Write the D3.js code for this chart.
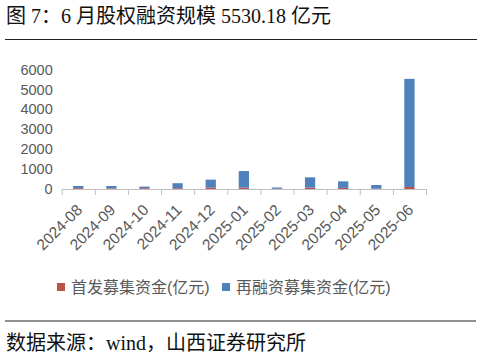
<!DOCTYPE html>
<html>
<head>
<meta charset="utf-8">
<script src="https://cdn.jsdelivr.net/npm/d3@7"></script>
<style>
  body { margin: 0; background: #fff; }
  svg { display: block; }
</style>
</head>
<body>
<div id="chart"></div>
<script>
// months on the x axis
const months = ['2024-08', '2024-09', '2024-10', '2024-11', '2024-12', '2025-01',
  '2025-02', '2025-03', '2025-04', '2025-05', '2025-06'];
// 首发募集资金 (亿元)
const ipoValues = [40, 30, 40, 40, 70, 70, 10, 70, 55, 20, 100];
// 再融资募集资金 (亿元)
const refiValues = [110, 120, 80, 250, 400, 830, 65, 515, 330, 180, 5430];
const yTicks = [0, 1000, 2000, 3000, 4000, 5000, 6000];
const seriesNames = ['首发募集资金(亿元)', '再融资募集资金(亿元)'];
const colors = ['#C0504D', '#4F81BD'];

const W = 482, H = 361;
const cjk = '"Liberation Serif", "Noto Sans CJK SC", serif';
const sans = 'Arial, "Liberation Sans", "Noto Sans CJK SC", sans-serif';

const svg = d3.select('#chart').append('svg')
  .attr('width', W)
  .attr('height', H);

// title + rule
svg.append('text')
  .attr('x', 6)
  .attr('y', 23)
  .attr('font-family', cjk)
  .attr('font-size', 20)
  .attr('fill', '#111')
  .text('图 7：6 月股权融资规模 5530.18 亿元');

svg.append('line')
  .attr('x1', 5).attr('x2', 477)
  .attr('y1', 39.5).attr('y2', 39.5)
  .attr('stroke', '#222').attr('stroke-width', 1.2);

// scales
const x = d3.scaleBand()
  .domain(months)
  .range([61.7, 426])
  .paddingInner(0.69)
  .paddingOuter(0.345);

const xEdge = d3.scaleLinear()
  .domain([0, months.length])
  .range([61.7, 426]);

const y = d3.scaleLinear()
  .domain([0, 6000])
  .range([189, 69.5]);

// stacked data
const table = months.map((m, i) => ({ month: m, ipo: ipoValues[i], refi: refiValues[i] }));
const stacked = d3.stack().keys(['ipo', 'refi'])(table);

// y axis (labels only)
const yAxisG = svg.append('g')
  .attr('transform', 'translate(61.7,0)')
  .call(d3.axisLeft(y).tickValues(yTicks).tickFormat(d3.format('d')).tickSize(0).tickPadding(9));
yAxisG.select('.domain').remove();
yAxisG.selectAll('text')
  .attr('font-family', sans)
  .attr('font-size', 14.5)
  .attr('fill', '#595959');

// bars
svg.append('g').selectAll('g')
  .data(stacked)
  .join('g')
  .attr('fill', (d, i) => colors[i])
  .selectAll('rect')
  .data(d => d)
  .join('rect')
  .attr('x', d => x(d.data.month))
  .attr('width', x.bandwidth())
  .attr('y', d => y(d[1]))
  .attr('height', d => y(d[0]) - y(d[1]));

// x axis line and boundary ticks
const edgeG = svg.append('g')
  .attr('transform', 'translate(0,189)')
  .call(d3.axisBottom(xEdge).tickValues(d3.range(months.length + 1)).tickFormat('').tickSize(6).tickSizeOuter(0));
edgeG.select('.domain').attr('stroke', '#bfbfbf');
edgeG.selectAll('.tick line').attr('stroke', '#bfbfbf');

// x labels
const xLabG = svg.append('g')
  .attr('transform', 'translate(0,189)')
  .call(d3.axisBottom(x).tickSize(0).tickPadding(0));
xLabG.select('.domain').remove();
xLabG.selectAll('text')
  .attr('font-family', sans)
  .attr('font-size', 15.5)
  .attr('fill', '#595959')
  .attr('text-anchor', 'end')
  .attr('dy', null)
  .attr('transform', 'translate(5,22) rotate(-45)');

// legend
const legend = svg.append('g').attr('transform', 'translate(0,287)');
const legendX = [57, 222];
seriesNames.forEach((name, i) => {
  legend.append('rect')
    .attr('x', legendX[i]).attr('y', -4)
    .attr('width', 8).attr('height', 8)
    .attr('fill', colors[i]);
  legend.append('text')
    .attr('x', legendX[i] + 14)
    .attr('y', 0)
    .attr('dy', '0.35em')
    .attr('font-family', sans)
    .attr('font-size', 16)
    .attr('fill', '#595959')
    .text(name);
});

// bottom rule + source
svg.append('line')
  .attr('x1', 5).attr('x2', 476)
  .attr('y1', 321).attr('y2', 321)
  .attr('stroke', '#222').attr('stroke-width', 1.2);

svg.append('text')
  .attr('x', 6)
  .attr('y', 350)
  .attr('font-family', cjk)
  .attr('font-size', 20)
  .attr('fill', '#111')
  .text('数据来源：wind，山西证券研究所');
</script>
</body>
</html>
